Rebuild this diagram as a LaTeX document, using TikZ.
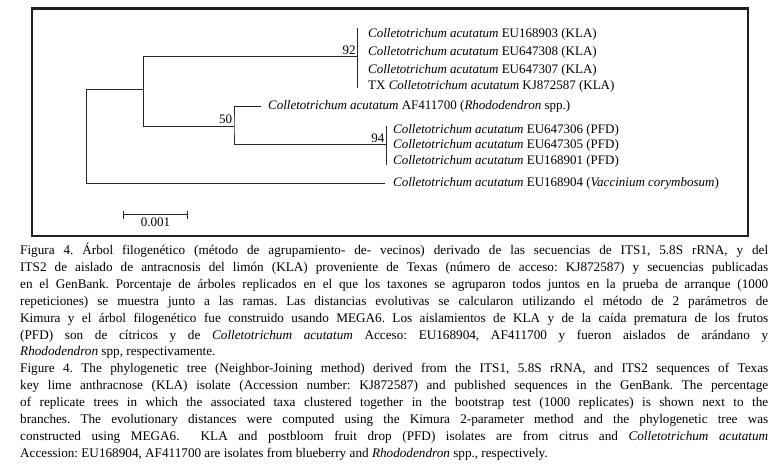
\documentclass[tikz,border=0pt]{standalone}
\usepackage{fontspec}
\setmainfont{Liberation Serif}
\usepackage{xcolor,tikz}
\usetikzlibrary{arrows.meta,positioning,calc}
\tikzset{taxon/.style={anchor=west,inner sep=0pt,font=\fontsize{13}{16}\selectfont},
  boot/.style={anchor=south east,inner sep=1.8pt,font=\fontsize{13}{16}\selectfont},
  branch/.style={line width=1pt,black!85}}
\newcommand{\Ca}{\textit{Colletotrichum acutatum}}

\begin{document}
\begin{tikzpicture}[x=1pt,y=-1pt]
\useasboundingbox (0,0) rectangle (775,471);
\draw[line width=2.4pt,black!88] (32,8.5) rectangle (748,236);
% internal nodes of the tree
\coordinate (root) at (86,89.6); \coordinate (nA) at (143.8,89.6);
\coordinate (n92) at (357.7,56.5); \coordinate (n50) at (234,126); \coordinate (n94) at (386.4,144.3);
\coordinate (n92t) at (357.7,28.4); \coordinate (n92b) at (357.7,88);
\coordinate (n94t) at (386.4,126); \coordinate (n94b) at (386.4,165);
\coordinate (tipAF) at (260.7,106); \coordinate (tipVC) at (385.4,183.3);
% taxa
\node[taxon] (kla1) at (368,34.5) {\Ca{} EU168903 (KLA)};
\node[taxon] (kla2) at (368,52) {\Ca{} EU647308 (KLA)};
\node[taxon] (kla3) at (368,70) {\Ca{} EU647307 (KLA)};
\node[taxon] (kla4) at (368,86) {TX \Ca{} KJ872587 (KLA)};
\node[taxon] (rho) at (268,106) {\Ca{} AF411700 (\textit{Rhododendron} spp.)};
\node[taxon] (pfd1) at (393,130.3) {\Ca{} EU647306 (PFD)};
\node[taxon] (pfd2) at (393,145.5) {\Ca{} EU647305 (PFD)};
\node[taxon] (pfd3) at (393,161.5) {\Ca{} EU168901 (PFD)};
\node[taxon] (vac) at (393,183.3) {\Ca{} EU168904 (\textit{Vaccinium corymbosum})};
% branches
\draw[branch] (root) -- (nA); \draw[branch] (root) |- (tipVC);
\draw[branch] (n92) -| (nA) |- (n50);
\draw[branch] (tipAF) -| (n50) |- (n94);
\draw[branch] (n92t) -- (n92b);
\draw[branch] (n94t) -- (n94b);
\node[boot] (b92) at (n92) {92}; \node[boot] (b50) at (n50) {50}; \node[boot] (b94) at (n94) {94};
% scale bar
\coordinate (sbl) at (123,214.7); \coordinate (sbr) at (188,214.7);
\draw[branch,{Bar[width=8pt]}-{Bar[width=8pt]}] (sbl) -- (sbr);
\node[below=3pt,inner sep=0pt,font=\fontsize{13}{16}\selectfont] (sbt) at ($(sbl)!0.5!(sbr)$) {0.001};
% caption
\node[anchor=north west,inner sep=0pt,text width=748pt,align=justify,
  font=\fontsize{13.2}{16.9}\selectfont] (caption) at (20,243) {\frenchspacing\spaceskip=0.25em plus 1em minus 0.12em
Figura 4. Árbol filogenético (método de agrupamiento- de- vecinos) derivado de las secuencias de ITS1, 5.8S rRNA, y del\linebreak
ITS2 de aislado de antracnosis del limón (KLA) proveniente de Texas (número de acceso: KJ872587) y secuencias publicadas\linebreak
en el GenBank. Porcentaje de árboles replicados en el que los taxones se agruparon todos juntos en la prueba de arranque (1000\linebreak
repeticiones) se muestra junto a las ramas. Las distancias evolutivas se calcularon utilizando el método de 2 parámetros de\linebreak
Kimura y el árbol filogenético fue construido usando MEGA6. Los aislamientos de KLA y de la caída prematura de los frutos\linebreak
(PFD) son de cítricos y de \Ca{} Acceso: EU168904, AF411700 y fueron aislados de arándano y\linebreak
\textit{Rhododendron} spp, respectivamente.\par
Figure 4. The phylogenetic tree (Neighbor-Joining method) derived from the ITS1, 5.8S rRNA, and ITS2 sequences of Texas\linebreak
key lime anthracnose (KLA) isolate (Accession number: KJ872587) and published sequences in the GenBank. The percentage\linebreak
of replicate trees in which the associated taxa clustered together in the bootstrap test (1000 replicates) is shown next to the\linebreak
branches. The evolutionary distances were computed using the Kimura 2-parameter method and the phylogenetic tree was\linebreak
constructed using MEGA6. \ KLA and postbloom fruit drop (PFD) isolates are from citrus and \Ca\linebreak
Accession: EU168904, AF411700 are isolates from blueberry and \textit{Rhododendron} spp., respectively.};
\end{tikzpicture}
\end{document}
